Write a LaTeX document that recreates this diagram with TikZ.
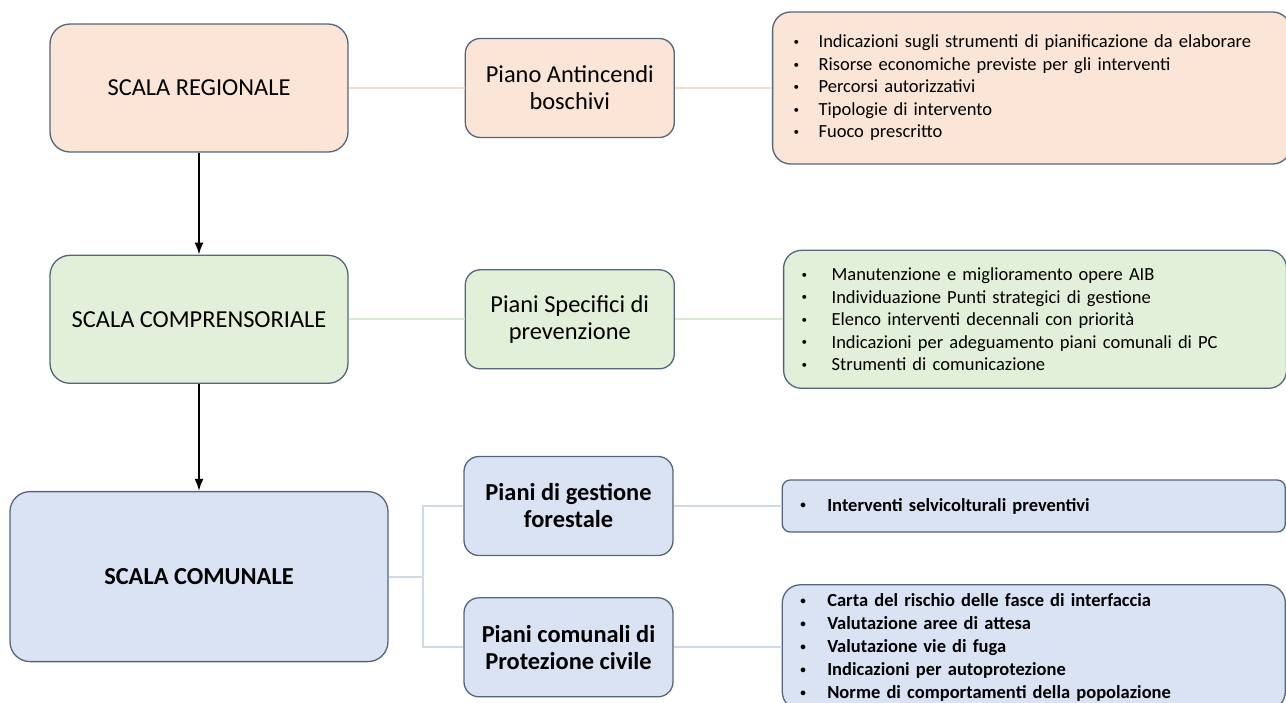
\documentclass[tikz,border=0pt]{standalone}
\usepackage{fontspec}
\setmainfont{Carlito}
\usepackage{xcolor}
\usetikzlibrary{arrows.meta,positioning,calc}

\definecolor{bordo}{HTML}{55657A}
\definecolor{pesca}{HTML}{FBE5D6}
\definecolor{verde}{HTML}{E2F0D9}
\definecolor{azzurro}{HTML}{DAE3F3}
\definecolor{lineapesca}{HTML}{F8DCCA}
\definecolor{lineaverde}{HTML}{D9EACE}
\definecolor{lineaazzurro}{HTML}{D0DAE6}
\newcommand{\punto}[1][28pt]{\makebox[#1][l]{\hspace{1pt}\raisebox{0.25ex}{\scalebox{0.6}{\textbullet}}}}

\begin{document}
\begin{tikzpicture}[x=1pt,y=-1pt,>=Latex]
  \tikzstyle{scala}=[draw=bordo,line width=1.3pt,rounded corners=20pt,align=center,minimum width=298pt,minimum height=128pt,font=\fontsize{24.4}{29}\selectfont]
  \tikzstyle{piano}=[draw=bordo,line width=1.3pt,rounded corners=15pt,align=center,minimum width=209pt,minimum height=99pt,font=\fontsize{24.4}{27}\selectfont]
  \tikzstyle{lista}=[draw=bordo,line width=1.3pt,rounded corners=18pt,align=left,inner xsep=17pt,minimum width=503pt,text width=469pt,font=\fontsize{18.5}{22.5}\selectfont]
  \useasboundingbox (0,0) rectangle (1286,702);
  \clip (0,0) rectangle (1286,702);
  % colonna delle scale
  \node[scala,fill=pesca] (reg) at (199,88) {SCALA REGIONALE};
  \node[scala,fill=verde,below=102pt of reg] (comp) {SCALA COMPRENSORIALE};
  \node[scala,fill=azzurro,below=107pt of comp,minimum width=378pt,minimum height=170pt,font=\fontsize{24.4}{29}\selectfont\bfseries] (com) {SCALA COMUNALE};
  % piani
  \node[piano,fill=pesca,right=116pt of reg] (aib) {Piano Antincendi\\boschivi};
  \node[piano,fill=verde,right=116pt of comp] (prev) {Piani Specifici di\\prevenzione};
  \node[piano,fill=azzurro,font=\fontsize{24.4}{27}\selectfont\bfseries] (gest) at (568.5,506) {Piani di gestione\\forestale};
  \node[piano,fill=azzurro,font=\fontsize{24.4}{27}\selectfont\bfseries,below=41pt of gest] (pc) {Piani comunali di\\Protezione civile};
  % contenuti
  \node[lista,fill=pesca,right=97pt of aib,minimum width=514pt,text width=478pt,inner xsep=20pt,minimum height=152pt] (laib) {\punto[26pt]Indicazioni sugli strumenti di pianificazione da elaborare\\
    \punto[26pt]Risorse economiche previste per gli interventi\\
    \punto[26pt]Percorsi autorizzativi\\
    \punto[26pt]Tipologie di intervento\\
    \punto[26pt]Fuoco prescritto};
  \node[lista,fill=verde,right=108pt of prev,minimum height=138pt] (lprev) {\punto[31pt]Manutenzione e miglioramento opere AIB\\
    \punto[31pt]Individuazione Punti strategici di gestione\\
    \punto[31pt]Elenco interventi decennali con priorità\\
    \punto[31pt]Indicazioni per adeguamento piani comunali di PC\\
    \punto[31pt]Strumenti di comunicazione};
  \node[lista,fill=azzurro,right=108pt of gest,minimum height=52pt,rounded corners=8pt,font=\fontsize{18.5}{22.5}\selectfont\bfseries] (lgest) {\punto Interventi selvicolturali preventivi};
  \node[lista,fill=azzurro,right=108pt of pc,minimum height=125pt,font=\fontsize{18.5}{23}\selectfont\bfseries] (lpc) {\punto Carta del rischio delle fasce di interfaccia\\
    \punto Valutazione aree di attesa\\
    \punto Valutazione vie di fuga\\
    \punto Indicazioni per autoprotezione\\
    \punto Norme di comportamenti della popolazione};
  % collegamenti
  \draw[->,line width=2pt] (reg) -- (comp);
  \draw[->,line width=2pt] (comp) -- (com);
  \draw[lineapesca,line width=2pt] (reg) -- (aib);
  \draw[lineapesca,line width=2pt] (aib) -- (laib);
  \draw[lineaverde,line width=2pt] (comp) -- (prev);
  \draw[lineaverde,line width=2pt] (prev) -- (lprev);
  \coordinate[right=34pt of com.east] (snodo);
  \draw[lineaazzurro,line width=2pt] (com) -- (snodo);
  \draw[lineaazzurro,line width=2pt] (snodo) |- (gest);
  \draw[lineaazzurro,line width=2pt] (snodo) |- (pc);
  \draw[lineaazzurro,line width=2pt] (gest) -- (lgest);
  \draw[lineaazzurro,line width=2pt] (pc) -- (lpc);
\end{tikzpicture}
\end{document}
